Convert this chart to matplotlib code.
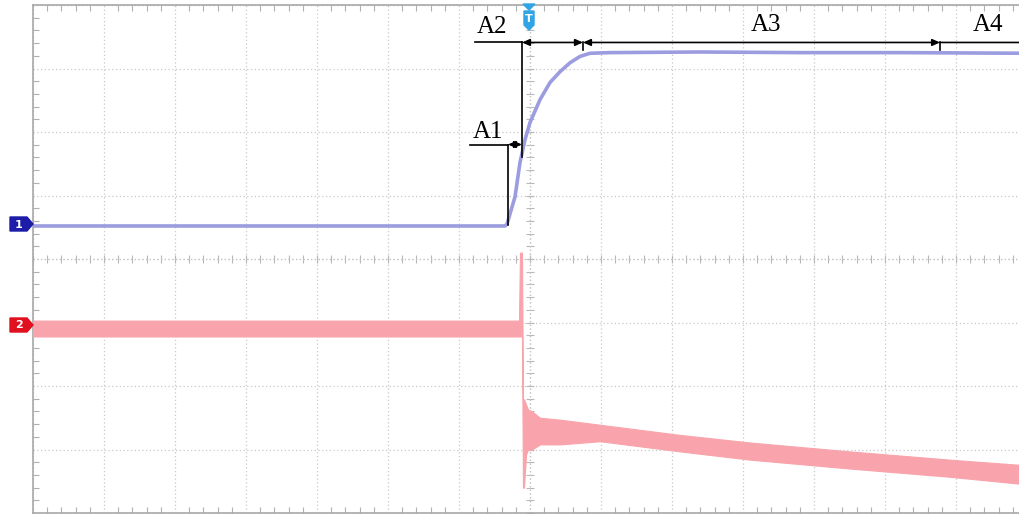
import numpy as np
import matplotlib
matplotlib.use("Agg")
import matplotlib.pyplot as plt
from matplotlib.patches import Polygon

# ---- data (time and voltage in screen divisions) ----
ch1_t = [-7.0, -0.352, -0.324, -0.211, -0.141, -0.070, 0.0, 0.141, 0.282, 0.423,
         0.563, 0.704, 0.845, 1.127, 2.39, 3.80, 5.21, 7.0]
ch1_v = [0.52, 0.52, 0.55, 0.98, 1.52, 1.88, 2.15, 2.51, 2.78, 2.95,
         3.09, 3.19, 3.24, 3.25, 3.26, 3.25, 3.25, 3.24]

ch2_t = [-7.0, -0.155, -0.141, -0.113, -0.099, -0.085, -0.056, -0.028, 0.028, 0.141,
         0.423, 0.986, 2.113, 3.099, 4.507, 5.915, 7.0]
ch2_hi = [-0.97, -0.97, 0.10, 0.10, -2.21, -2.21, -2.29, -2.37, -2.40, -2.50,
          -2.53, -2.61, -2.77, -2.89, -3.03, -3.16, -3.25]
ch2_lo = [-1.22, -1.22, -1.22, -1.22, -3.60, -3.60, -3.08, -3.00, -3.00, -2.92,
          -2.92, -2.87, -3.03, -3.16, -3.30, -3.43, -3.55]

cursor_t = [-0.310, -0.113, 0.746, 5.775]   # A1 start, A2 start, A3 start, A4 start
cursor_labels = ["A1", "A2", "A3", "A4"]
label_t = [-0.592, -0.535, 3.324, 6.451]
label_v = [2.00, 3.66, 3.69, 3.69]

BLUE = "#9c9ce0"
PINK = "#f9a4ac"

W, H = 1019, 515
fig = plt.figure(figsize=(W / 100, H / 100), dpi=100)
ax = fig.add_axes([33 / W, 2 / H, 1 - 33 / W, 508 / H])
ax.set_xlim(-7, 6.887)
ax.set_ylim(-4, 4)

# grid
ax.set_xticks(np.arange(-7, 7, 1))
ax.set_yticks(np.arange(-4, 5, 1))
ax.set_xticks(np.arange(-7, 7, 0.2), minor=True)
ax.set_yticks(np.arange(-4, 4.01, 0.2), minor=True)
ax.grid(True, which="major", color="#c8c8c8", linestyle=(0, (1, 2)), linewidth=0.9)
ax.tick_params(which="both", direction="in", top=True, bottom=True, left=True, right=False,
               labelbottom=False, labelleft=False, color="#b0b0b0")
ax.tick_params(which="major", length=0)
ax.tick_params(which="minor", length=4, width=0.8)
for s in ["left", "top", "bottom"]:
    ax.spines[s].set_color("#a8a8a8")
    ax.spines[s].set_linewidth(1.2)
ax.spines["right"].set_visible(False)

# center cross ticks
mx = np.arange(-7, 7, 0.2)
my = np.arange(-4, 4.01, 0.2)
ax.plot(mx, np.zeros_like(mx), linestyle="none", marker="|", markersize=6, color="#b8b8b8", mew=0.8)
ax.plot(np.zeros_like(my), my, linestyle="none", marker="_", markersize=6, color="#b8b8b8", mew=0.8)
ax.axhline(0, color="#c4c4c4", linestyle=(0, (1, 2)), linewidth=0.9)
ax.axvline(0, color="#c4c4c4", linestyle=(0, (1, 2)), linewidth=0.9)

# traces
ax.fill_between(ch2_t, ch2_lo, ch2_hi, color=PINK, linewidth=0.8, edgecolor=PINK, zorder=3)
ax.plot(ch1_t, ch1_v, color=BLUE, linewidth=2.6, zorder=4, solid_capstyle="butt")

# cursors / annotations
lk = dict(color="black", linewidth=1.2, zorder=5)
yA1, yA2 = 1.803, 3.41
ax.plot([-0.845, cursor_t[0]], [yA1, yA1], **lk)
ax.plot([cursor_t[0], cursor_t[0]], [yA1, 0.53], **lk)
ax.plot([cursor_t[1], cursor_t[1]], [yA2, 1.60], **lk)
ax.plot([-0.775, cursor_t[1]], [yA2, yA2], **lk)
arr = dict(arrowstyle="<|-|>,head_length=0.45,head_width=0.2", color="black", lw=1.2,
           shrinkA=0, shrinkB=0)
ax.annotate("", xy=(cursor_t[0], yA1), xytext=(cursor_t[1], yA1), arrowprops=arr, zorder=5)
ax.annotate("", xy=(cursor_t[1], yA2), xytext=(cursor_t[2], yA2), arrowprops=arr, zorder=5)
ax.annotate("", xy=(cursor_t[2], yA2), xytext=(cursor_t[3], yA2), arrowprops=arr, zorder=5)
ax.annotate("", xy=(cursor_t[3], yA2), xytext=(7.2, yA2),
            arrowprops=dict(arrowstyle="<|-,head_length=0.45,head_width=0.2", color="black",
                            lw=1.2, shrinkA=0, shrinkB=0), zorder=5)
for ct in cursor_t[2:]:
    ax.plot([ct, ct], [yA2, yA2 - 0.12], **lk)
for lab, lt, lv in zip(cursor_labels, label_t, label_v):
    ax.text(lt, lv, lab, family="Liberation Serif", fontsize=18, ha="center", va="center",
            color="black", zorder=6)

# channel markers (figure pixel coordinates)
def px(x, y):
    return (x / W, 1 - y / H)

def marker(yc, color, label):
    pts = [px(10, yc - 7), px(27, yc - 7), px(33, yc), px(27, yc + 7), px(10, yc + 7)]
    fig.patches.append(Polygon(pts, closed=True, transform=fig.transFigure,
                               facecolor=color, edgecolor=color))
    fig.text(*px(18.5, yc + 0.5), label, color="white", fontsize=8, ha="center",
             va="center", family="DejaVu Sans", fontweight="bold")

marker(224, "#1c1ca8", "1")
marker(325, "#e0101e", "2")

# trigger marker
TB = "#30a4e4"
tri = [px(523, 4), px(535, 4), px(529, 10)]
fig.patches.append(Polygon(tri, closed=True, transform=fig.transFigure, facecolor=TB, edgecolor=TB))
pent = [px(524, 11), px(534, 11), px(534, 25), px(529, 30), px(524, 25)]
fig.patches.append(Polygon(pent, closed=True, transform=fig.transFigure, facecolor=TB, edgecolor=TB))
fig.text(*px(529, 18.5), "T", color="white", fontsize=8, ha="center", va="center",
         fontweight="bold")

fig.savefig("out.png", dpi=100, facecolor="white")
